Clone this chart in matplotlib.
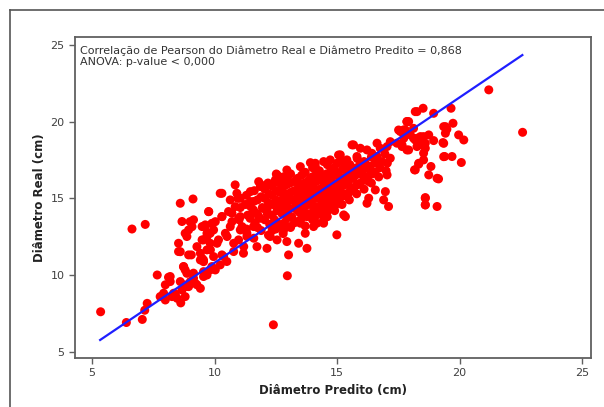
import matplotlib.pyplot as plt
from matplotlib.lines import Line2D

# Diâmetro Predito (x) vs Diâmetro Real (y), grouped by region
low_pred = [5.35, 6.4, 7.05, 7.15, 7.25, 6.63, 7.17, 7.66, 8.12, 8.19, 7.92, 7.85, 7.99,
            8.26, 8.40, 8.62, 8.47, 8.6, 9.12, 9.76, 9.0, 9.14, 9.08, 8.94, 8.80, 8.53,
            8.60, 9.05, 9.42, 9.49, 9.55, 8.73, 8.80, 8.87, 9.14, 9.01, 8.80, 8.67, 8.94,
            9.21, 9.42, 9.55, 9.69, 9.82, 9.49, 9.69, 9.82, 9.62, 9.69, 9.89, 10.23,
            8.67, 9.49, 9.96, 10.30, 10.71, 10.98, 10.64, 11.12, 10.51, 10.98, 11.32,
            10.10, 9.83, 9.28, 8.87, 8.53, 8.94, 9.42, 10.03, 10.37, 10.78, 11.19, 8.74,
            9.14, 9.55, 8.19, 7.99, 8.60, 8.87, 9.28, 8.33, 7.78, 8.80, 12.4, 12.97]
low_real = [7.6, 6.9, 7.1, 7.7, 8.15, 13.0, 13.3, 10.0, 9.85, 9.57, 8.81, 8.63, 8.37,
            8.59, 8.76, 8.18, 8.48, 14.68, 14.96, 14.13, 13.48, 13.6, 13.15, 12.94, 12.72,
            12.07, 11.52, 11.31, 11.42, 11.09, 10.87, 10.54, 10.33, 10.11, 9.79, 9.57,
            9.35, 9.02, 9.24, 9.46, 9.13, 10.22, 10.0, 10.33, 12.29, 12.5, 12.07, 13.15,
            12.72, 13.37, 15.33, 13.49, 13.16, 12.94, 13.81, 14.03, 13.70, 13.16, 13.16,
            12.51, 12.29, 12.51, 12.07, 11.64, 11.85, 12.51, 11.53, 11.31, 10.98, 10.33,
            11.20, 11.53, 11.85, 10.55, 10.12, 9.90, 9.90, 9.36, 9.57, 9.25, 9.36, 8.81,
            8.59, 8.59, 6.75, 9.95]

mid_pred = [13.91, 14.11, 13.50, 13.63, 12.95, 12.55, 12.82, 12.48, 11.80, 11.87, 11.46,
            10.84, 10.91, 10.30, 10.64, 11.05, 10.84, 10.57, 9.76, 9.62, 10.03, 10.30,
            10.71, 11.05, 11.46, 11.59, 11.80, 12.14, 12.55, 12.95, 13.36, 13.77, 14.11,
            14.18, 13.50, 13.09, 12.82, 12.41, 12.27, 12.55, 12.14, 11.73, 11.18, 10.78,
            10.44, 10.16, 9.82, 9.55, 9.69, 9.96, 10.30, 10.50, 10.23, 9.89, 9.55, 13.02,
            13.77, 13.43, 11.59, 11.32, 11.05, 13.70, 14.04, 14.45, 12.95]
mid_real = [17.33, 17.07, 17.07, 16.64, 16.85, 16.53, 16.20, 16.09, 16.09, 15.77, 15.44,
            15.88, 15.33, 15.33, 14.90, 15.01, 14.46, 14.14, 14.14, 13.27, 13.48, 13.81,
            13.48, 13.81, 14.79, 14.24, 13.81, 14.24, 14.46, 13.81, 14.24, 13.81, 14.46,
            13.38, 13.38, 13.16, 12.94, 13.27, 12.51, 12.29, 11.74, 11.85, 11.42, 12.07,
            12.72, 12.29, 12.72, 12.29, 11.64, 11.20, 11.31, 10.88, 10.66, 10.55, 10.98,
            11.31, 11.74, 12.07, 13.16, 12.72, 12.94, 12.72, 13.16, 13.38, 12.18]

high_pred = [18.26, 17.92, 17.72, 17.99, 18.26, 18.53, 18.60, 17.17, 17.44, 17.65, 17.92,
             16.63, 16.76, 17.04, 18.33, 18.19, 18.74, 18.53, 15.67, 15.95, 16.22, 16.42,
             16.63, 16.83, 17.17, 17.04, 15.13, 14.72, 14.45, 14.11, 14.99, 15.40, 15.81,
             16.15, 16.35, 16.08, 16.29, 16.56, 16.97, 16.90, 17.10, 16.29, 16.22, 18.60,
             18.60, 15.67, 15.81, 15.47, 15.20, 14.93, 14.59, 14.04, 14.45, 15.27, 14.99,
             15.34, 17.51, 17.85, 18.12, 15.06, 15.61, 12.52]
high_real = [20.66, 20.01, 19.47, 19.14, 18.92, 19.03, 18.60, 18.70, 18.60, 18.38, 18.16,
             18.60, 18.27, 18.38, 17.29, 16.86, 16.53, 17.51, 18.49, 18.27, 18.16, 17.94,
             17.73, 17.40, 17.62, 16.53, 17.84, 17.51, 17.40, 17.29, 17.29, 17.51, 17.73,
             17.29, 16.86, 16.42, 16.10, 15.55, 15.44, 14.90, 14.47, 15.01, 14.68, 15.01,
             14.57, 15.55, 15.88, 15.34, 15.12, 14.57, 14.14, 14.03, 13.60, 13.92, 12.62,
             13.81, 19.46, 20.01, 19.57, 17.83, 18.49, 16.59]

top_pred = [21.19, 22.57, 18.19, 18.51, 18.94, 19.65, 17.85, 17.78, 17.58, 19.35, 19.48,
            19.73, 19.42, 19.32, 19.96, 20.17, 18.74, 18.94, 18.40, 18.19, 18.12, 18.33,
            18.46, 18.60, 18.53, 17.85, 17.65, 17.72, 18.26, 19.39, 19.69, 20.07, 18.33,
            18.16, 18.83, 19.14, 18.60, 18.60, 19.08, 19.42, 19.35, 19.35, 19.08]
top_real = [22.08, 19.31, 20.66, 20.88, 20.55, 20.88, 20.01, 19.47, 19.36, 19.68, 19.51,
            19.90, 19.25, 18.64, 19.14, 18.81, 19.14, 18.77, 19.03, 18.81, 18.92, 18.71,
            18.49, 18.27, 17.95, 18.16, 18.49, 18.92, 18.38, 17.73, 17.73, 17.34, 17.23,
            16.86, 17.08, 16.27, 15.05, 14.58, 14.47, 19.68, 18.59, 17.72, 16.31]

core_pred = [11.0, 11.05, 10.95, 11.3, 11.35, 11.25, 11.3, 11.6, 11.65, 11.55, 11.6, 11.62,
             11.9, 11.85, 11.95, 11.9, 11.88, 12.2, 12.25, 12.15, 12.2, 12.22, 12.18,
             12.5, 12.45, 12.55, 12.5, 12.52, 12.48, 12.8, 12.85, 12.75, 12.8, 12.82,
             12.78, 12.8, 13.1, 13.15, 13.05, 13.1, 13.12, 13.08, 13.1, 13.4, 13.45,
             13.35, 13.4, 13.42, 13.38, 13.7, 13.75, 13.65, 13.7, 13.72, 13.68, 13.7,
             14.0, 14.05, 13.95, 14.0, 14.02, 13.98, 14.0, 14.3, 14.35, 14.25, 14.3,
             14.32, 14.28, 14.6, 14.65, 14.55, 14.6, 14.62, 14.58, 14.6, 14.9, 14.95,
             14.85, 14.9, 14.92, 14.88, 15.2, 15.25, 15.15, 15.2, 15.22, 15.18, 15.5,
             15.55, 15.45, 15.5, 15.52, 15.8, 15.85, 15.75, 15.8, 15.82, 16.1, 16.15,
             16.05, 16.1, 16.4, 16.45, 16.35, 16.4, 16.7, 16.75, 16.65, 17.0, 17.05, 16.95]
core_real = [13.6, 14.4, 15.0, 13.0, 13.9, 14.6, 15.2, 12.4, 13.4, 14.1, 14.8, 15.5,
             12.9, 13.7, 14.4, 15.1, 15.9, 12.6, 13.3, 14.0, 14.7, 15.3, 16.0,
             13.0, 13.6, 14.2, 14.9, 15.5, 16.2, 12.7, 13.4, 14.0, 14.6, 15.1,
             15.7, 16.4, 13.1, 13.8, 14.3, 14.9, 15.4, 16.0, 16.6, 13.5, 14.1,
             14.6, 15.2, 15.7, 16.3, 13.2, 13.9, 14.4, 15.0, 15.5, 16.0, 16.7,
             13.6, 14.2, 14.8, 15.3, 15.8, 16.4, 17.0, 14.0, 14.6, 15.1, 15.6,
             16.2, 16.8, 13.8, 14.4, 15.0, 15.5, 16.0, 16.6, 17.2, 14.2, 14.8,
             15.4, 15.9, 16.5, 17.0, 14.6, 15.2, 15.7, 16.3, 16.9, 17.4, 14.9,
             15.5, 16.1, 16.7, 17.2, 15.3, 15.9, 16.5, 17.0, 17.6, 15.6, 16.2,
             16.8, 17.4, 16.0, 16.6, 17.1, 17.7, 16.4, 17.0, 17.5, 16.8, 17.3, 17.9]

# second, staggered pass through the dense middle of the cloud
core2_pred = [11.45, 11.45, 11.75, 11.75, 11.75, 12.05, 12.05, 12.05, 12.05,
              12.35, 12.35, 12.35, 12.35, 12.35, 12.65, 12.65, 12.65, 12.65, 12.65,
              12.95, 12.95, 12.95, 12.95, 12.95, 12.95, 13.25, 13.25, 13.25, 13.25, 13.25,
              13.55, 13.55, 13.55, 13.55, 13.55, 13.55, 13.85, 13.85, 13.85, 13.85, 13.85,
              14.15, 14.15, 14.15, 14.15, 14.15, 14.15, 14.45, 14.45, 14.45, 14.45, 14.45,
              14.75, 14.75, 14.75, 14.75, 14.75, 15.05, 15.05, 15.05, 15.05,
              15.35, 15.35, 15.35, 15.35, 15.65, 15.65, 15.65, 15.95, 15.95, 15.95,
              16.25, 16.25, 16.55, 16.55]
core2_real = [13.7, 14.5, 13.1, 14.0, 14.9, 13.6, 14.3, 15.0, 15.6,
              12.9, 13.9, 14.6, 15.2, 15.8, 13.3, 14.3, 14.8, 15.4, 16.0,
              13.7, 14.2, 14.7, 15.3, 15.9, 16.3, 13.4, 14.4, 14.9, 15.5, 16.1,
              13.7, 14.3, 14.8, 15.4, 15.9, 16.5, 14.0, 14.6, 15.1, 15.7, 16.2,
              13.9, 14.4, 15.0, 15.5, 16.1, 16.6, 14.3, 14.8, 15.3, 15.8, 16.4,
              14.6, 15.1, 15.7, 16.3, 16.8, 15.0, 15.5, 16.0, 16.6,
              15.3, 15.9, 16.4, 17.0, 15.7, 16.3, 16.9, 16.0, 16.6, 17.2,
              16.4, 17.0, 16.7, 17.3]

pred = low_pred + mid_pred + high_pred + top_pred + core_pred + core2_pred
real = low_real + mid_real + high_real + top_real + core_real + core2_real

# fitted line end points
fit_x = [5.33, 22.56]
fit_y = [5.76, 24.35]

fig = plt.figure(figsize=(6.04, 4.07), dpi=100)
ax = fig.add_axes([0.124, 0.121, 0.854, 0.787])

ax.scatter(pred, real, s=42, color='#ff0000', edgecolors='none', zorder=2)
ax.plot(fit_x, fit_y, color='#1f1fff', lw=1.6, zorder=3)

ax.set_xlim(4.3, 25.35)
ax.set_ylim(4.6, 25.5)
ax.set_xticks([5, 10, 15, 20, 25])
ax.set_yticks([5, 10, 15, 20, 25])

for sp in ax.spines.values():
    sp.set_color('#606060')
    sp.set_linewidth(1.3)
ax.tick_params(direction='out', length=4, width=1, color='#606060',
               labelsize=8, labelcolor='#404040')

ax.set_xlabel('Diâmetro Predito (cm)', fontsize=8.5, fontweight='bold', color='#222222', labelpad=4)
ax.set_ylabel('Diâmetro Real (cm)', fontsize=8.5, fontweight='bold', color='#222222', labelpad=3)

ax.text(0.01, 0.975,
        'Correlação de Pearson do Diâmetro Real e Diâmetro Predito = 0,868\nANOVA: p-value < 0,000',
        transform=ax.transAxes, ha='left', va='top', fontsize=8, color='#333333',
        linespacing=1.1)

# outer frame of the picture
fig.add_artist(Line2D([10/604, 10/604], [0, 1 - 10/407], color='#555555', lw=1.2))
fig.add_artist(Line2D([10/604, 1], [1 - 10/407, 1 - 10/407], color='#555555', lw=1.2))

fig.savefig('out.png', dpi=100)
